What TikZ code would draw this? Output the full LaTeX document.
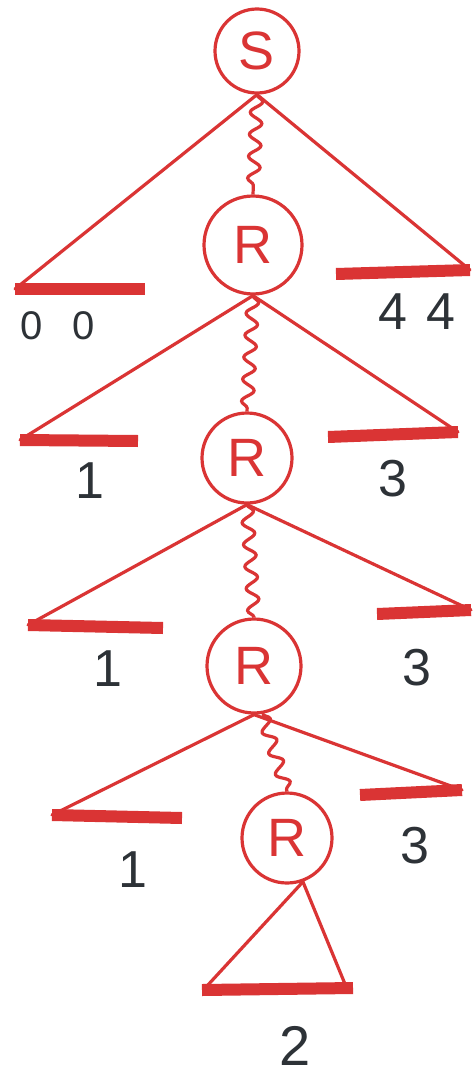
\documentclass[tikz,border=0pt]{standalone}
\usepackage{fontspec}
\setmainfont{Liberation Sans}
\usetikzlibrary{decorations.pathmorphing}
\definecolor{pen}{RGB}{218,52,52}
\definecolor{ink}{RGB}{45,50,55}
\begin{document}
\begin{tikzpicture}[x=1pt,y=-1pt,
  state/.style={circle,draw=pen,line width=3.2pt,minimum size=#1,inner sep=0pt,text=pen,font=\fontsize{54}{54}\selectfont},
  edge/.style={draw=pen,line width=3.2pt,line cap=round},
  wavy/.style={draw=pen,line width=3.2pt,decorate,decoration={snake,segment length=22pt,amplitude=6pt}},
  bar/.style={draw=pen,line width=12pt},
  num/.style={text=ink,inner sep=0pt,font=\fontsize{#1}{#1}\selectfont},
  num/.default=52]
\useasboundingbox (0,0) rectangle (474,1078);
\fill[white] (0,0) rectangle (474,1078);

% state nodes
\node[state=84] (S) at (257,51) {S};
\node[state=98] (R1) at (253,245) {R};
\node[state=90] (R2) at (247,458) {R};
\node[state=94] (R3) at (254,666) {R};
\node[state=90] (R4) at (287,838) {R};

% wavy connectors
\draw[wavy] (S.south) -- (R1.north);
\draw[wavy] (R1.south) -- (R2.north);
\draw[wavy] (R2.south) -- (R3.north);
\draw[wavy] (R3.-80) -- (R4.north);

% level 1
\coordinate (a1) at (15,289); \coordinate (b1) at (145,289);
\coordinate (c1) at (336,274); \coordinate (d1) at (470,270);
\draw[edge] (S.south) -- (a1);
\draw[edge] (S.south) -- (d1);
\draw[bar] (a1) -- (b1);
\draw[bar] (c1) -- (d1);
\node[num=40] (l1) at (58,326) {0\hspace{30pt}0};
\node[num] (r1) at (417,312) {4\hspace{20pt}4};

% level 2
\coordinate (a2) at (20,440); \coordinate (b2) at (138,441);
\coordinate (c2) at (328,437); \coordinate (d2) at (458,432);
\draw[edge] (R1.south) -- (a2);
\draw[edge] (R1.south) -- (d2);
\draw[bar] (a2) -- (b2);
\draw[bar] (c2) -- (d2);
\node[num] (l2) at (90,481) {1};
\node[num] (r2) at (393,479) {3};

% level 3
\coordinate (a3) at (28,625); \coordinate (b3) at (163,628);
\coordinate (c3) at (377,614); \coordinate (d3) at (471,610);
\draw[edge] (R2.south) -- (a3);
\draw[edge] (R2.south) -- (d3);
\draw[bar] (a3) -- (b3);
\draw[bar] (c3) -- (d3);
\node[num] (l3) at (108,669) {1};
\node[num] (r3) at (417,668) {3};

% level 4
\coordinate (a4) at (52,815); \coordinate (b4) at (182,818);
\coordinate (c4) at (360,795); \coordinate (d4) at (462,790);
\draw[edge] (R3.south) -- (a4);
\draw[edge] (R3.south) -- (d4);
\draw[bar] (a4) -- (b4);
\draw[bar] (c4) -- (d4);
\node[num] (l4) at (133,870) {1};
\node[num] (r4) at (415,846) {3};

% level 5
\coordinate (a5) at (202,990); \coordinate (b5) at (353,988);
\coordinate (e5) at (207,986); \coordinate (f5) at (345,984);
\draw[edge] (R4.-70) -- (e5);
\draw[edge] (R4.-70) -- (f5);
\draw[bar] (a5) -- (b5);
\node[num=56] (m5) at (295,1046) {2};
\end{tikzpicture}
\end{document}
